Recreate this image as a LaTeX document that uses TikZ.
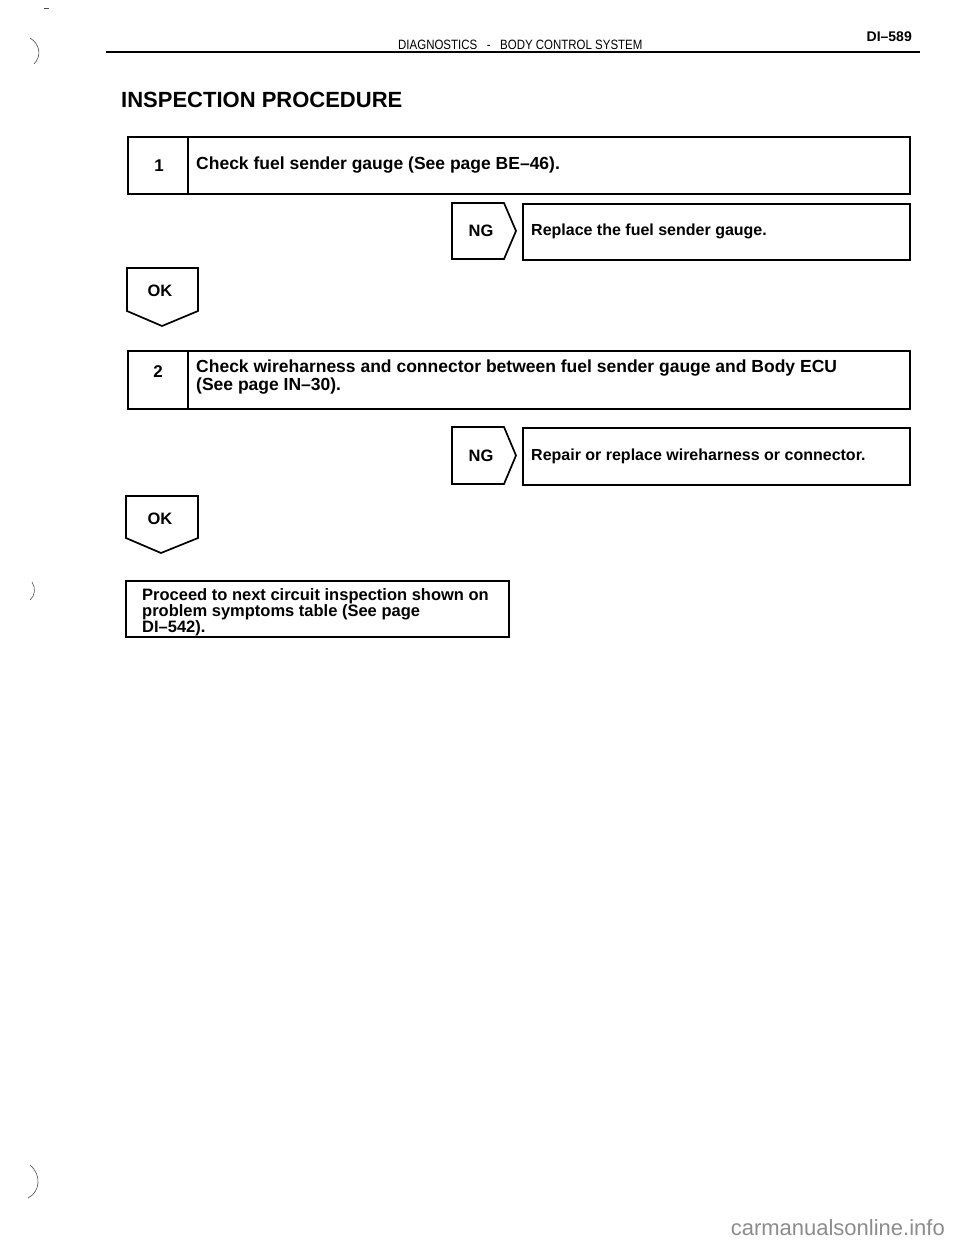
\documentclass[tikz,border=0pt]{standalone}
\usepackage{fontspec}
\setmainfont{Liberation Sans}
\newfontfamily\hvn[FakeStretch=0.85]{Liberation Sans}
\usetikzlibrary{calc}
\begin{document}
\begin{tikzpicture}[x=1pt,y=-1pt,
  frame/.style={draw=black, line width=1.7pt},
  boxnode/.style={frame, anchor=north west, inner sep=0pt},
  steptxt/.style={font=\bfseries\fontsize{17.5}{16}\selectfont, anchor=west, inner sep=0pt, align=left},
  restxt/.style={font=\bfseries\fontsize{16}{15}\selectfont, anchor=west, inner sep=0pt, align=left},
  num/.style={font=\bfseries\fontsize{17}{17}\selectfont, inner sep=0pt},
  tagtxt/.style={font=\bfseries\fontsize{16.5}{16.5}\selectfont, inner sep=0pt},
  scan/.style={draw=black!70, line width=0.6pt}]
\useasboundingbox (0,0) rectangle (960,1250);

% header
\node[font=\bfseries\fontsize{14}{14}\selectfont, anchor=east, inner sep=0pt] (pg) at (912,37) {DI–589};
\node[font=\hvn\fontsize{13.5}{13.5}\selectfont, anchor=west, inner sep=0pt] (hdr) at (398,45) {DIAGNOSTICS \ \ - \ \ BODY CONTROL SYSTEM};
\coordinate (rl) at (106,52);
\coordinate (rr) at (920,52);
\draw[line width=1.5pt] (rl) -- (rr);
\node[font=\bfseries\fontsize{22}{22}\selectfont, anchor=west, inner sep=0pt] (title) at (121,100) {INSPECTION PROCEDURE};

% step 1
\node[boxnode, minimum width=782, minimum height=57] (s1) at (127,136) {};
\draw[frame] ($(s1.north west)+(61,0)$) -- ($(s1.south west)+(61,0)$);
\node[num] (n1) at ($(s1.west)+(32,0)$) {1};
\node[steptxt] (t1) at ($(s1.west)+(69,0)$) {Check fuel sender gauge (See page BE–46).};

% NG 1
\node[boxnode, minimum width=387, minimum height=56] (r1) at (522,203) {};
\draw[frame] (452,203) -- (504,203) -- (516,231) -- (504,259) -- (452,259) -- cycle;
\node[tagtxt] (ng1) at (481,231) {NG};
\node[restxt] (rt1) at ($(r1.west)+(9,0)$) {Replace the fuel sender gauge.};

% OK 1
\draw[frame] (127,268) -- (198,268) -- (198,311) -- (162,326) -- (127,311) -- cycle;
\node[tagtxt] (ok1) at (160,291) {OK};

% step 2
\node[boxnode, minimum width=782, minimum height=58] (s2) at (127,350) {};
\draw[frame] ($(s2.north west)+(61,0)$) -- ($(s2.south west)+(61,0)$);
\node[num] (n2) at ($(s2.north west)+(31,22)$) {2};
\node[steptxt, anchor=north west] (t2) at ($(s2.north west)+(69,10)$) {Check wireharness and connector between fuel sender gauge and Body ECU\\(See page IN–30).};

% NG 2
\node[boxnode, minimum width=387, minimum height=57] (r2) at (522,427) {};
\draw[frame] (452,427) -- (504,427) -- (516,455.5) -- (504,484) -- (452,484) -- cycle;
\node[tagtxt] (ng2) at (481,456) {NG};
\node[restxt] (rt2) at ($(r2.west)+(9,0)$) {Repair or replace wireharness or connector.};

% OK 2
\draw[frame] (126,496) -- (198,496) -- (198,538) -- (161,553) -- (126,538) -- cycle;
\node[tagtxt] (ok2) at (160,519) {OK};

% final
\node[boxnode, minimum width=383, minimum height=56] (fin) at (125,580) {};
\node[restxt, anchor=north west, font=\bfseries\fontsize{16.5}{14.5}\selectfont] (ft) at ($(fin.north west)+(17,8)$) {Proceed to next circuit inspection shown on\\problem symptoms table (See page\\DI–542).};

% scan marks
\draw[scan] (30,38) .. controls (40,44) and (42,56) .. (34,64);
\draw[scan] (44,8) -- (49,8);
\draw[scan] (32,582) .. controls (36,588) and (35,596) .. (30,600);
\draw[scan] (30,1165) .. controls (42,1175) and (40,1192) .. (28,1198);

% watermark
\node[font=\fontsize{22}{22}\selectfont, text=black!45, anchor=east, inner sep=0pt] (wm) at (945,1228) {carmanualsonline.info};
\end{tikzpicture}
\end{document}
